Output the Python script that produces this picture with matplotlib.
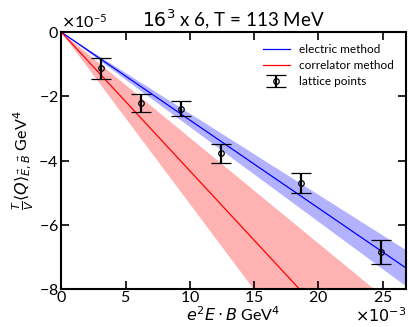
import numpy as np
import matplotlib
matplotlib.use("Agg")
import matplotlib.pyplot as plt

plt.rcParams["font.family"] = ["Lato", "DejaVu Sans"]
plt.rcParams["mathtext.fontset"] = "dejavusans"

# lattice points (x in GeV^4, y in GeV^4)
x_pts = np.array([3.11, 6.22, 9.33, 12.44, 18.66, 24.88]) * 1e-3
y_pts = np.array([-1.13, -2.20, -2.38, -3.78, -4.70, -6.84]) * 1e-5
y_err = np.array([0.33, 0.28, 0.23, 0.29, 0.32, 0.38]) * 1e-5

# slopes (y/x) of the two methods with their uncertainty
slope_el, dslope_el = -2.74e-3, 0.21e-3
slope_co, dslope_co = -4.32e-3, 1.03e-3

xs = np.array([0.0, 0.03])

fig, ax = plt.subplots(figsize=(4.08, 3.27), dpi=100)
fig.subplots_adjust(left=0.15, right=0.995, top=0.902, bottom=0.116)

ax.fill_between(xs, (slope_co - dslope_co) * xs, (slope_co + dslope_co) * xs,
                color="red", alpha=0.3, lw=0)
ax.fill_between(xs, (slope_el - dslope_el) * xs, (slope_el + dslope_el) * xs,
                color="blue", alpha=0.3, lw=0)
ax.plot(xs, slope_el * xs, color="blue", lw=0.9, label="electric method")
ax.plot(xs, slope_co * xs, color="red", lw=0.9, label="correlator method")
ax.errorbar(x_pts, y_pts, yerr=y_err, fmt="o", mfc="none", mec="black", ms=4,
            mew=0.9, ecolor="black", elinewidth=1.6, capsize=7, capthick=1.1,
            label="lattice points")

ax.set_xlim(0, 0.0268)
ax.set_ylim(-8e-5, 0)
ax.set_xticks(np.arange(0, 0.026, 0.005))
ax.set_yticks(np.arange(-8e-5, 1e-6, 2e-5))
ax.ticklabel_format(axis="x", style="sci", scilimits=(-3, -3), useMathText=True)
ax.ticklabel_format(axis="y", style="sci", scilimits=(-5, -5), useMathText=True)
ax.tick_params(direction="in", top=True, right=True, length=6, width=1.2,
               labelsize=11.5, pad=2)
ax.tick_params(axis="x", pad=1)
ax.yaxis.get_offset_text().set_fontsize(11.5)
# x multiplier sits on the same line as the x label, right-aligned
ax.xaxis.get_offset_text().set_visible(False)
fig.text(0.995, 0.015, r"$\times10^{-3}$", ha="right", va="baseline", fontsize=11.5)
for s in ax.spines.values():
    s.set_linewidth(1.5)

ax.set_title(r"$16^3$ x 6, T = 113 MeV", fontsize=13.5, pad=4)
ax.set_xlabel(r"$e^2 E\cdot B$ GeV$^4$", fontsize=11.5, labelpad=0)
ax.set_ylabel(r"$\frac{T}{V}\langle Q\rangle_{\vec{E},\vec{B}}$ GeV$^4$",
              fontsize=11.5, labelpad=2)
ax.legend(loc="upper right", frameon=False, fontsize=8.5, handlelength=2.3,
          borderaxespad=0.6, labelspacing=0.45)

plt.savefig("out.png", dpi=100)
